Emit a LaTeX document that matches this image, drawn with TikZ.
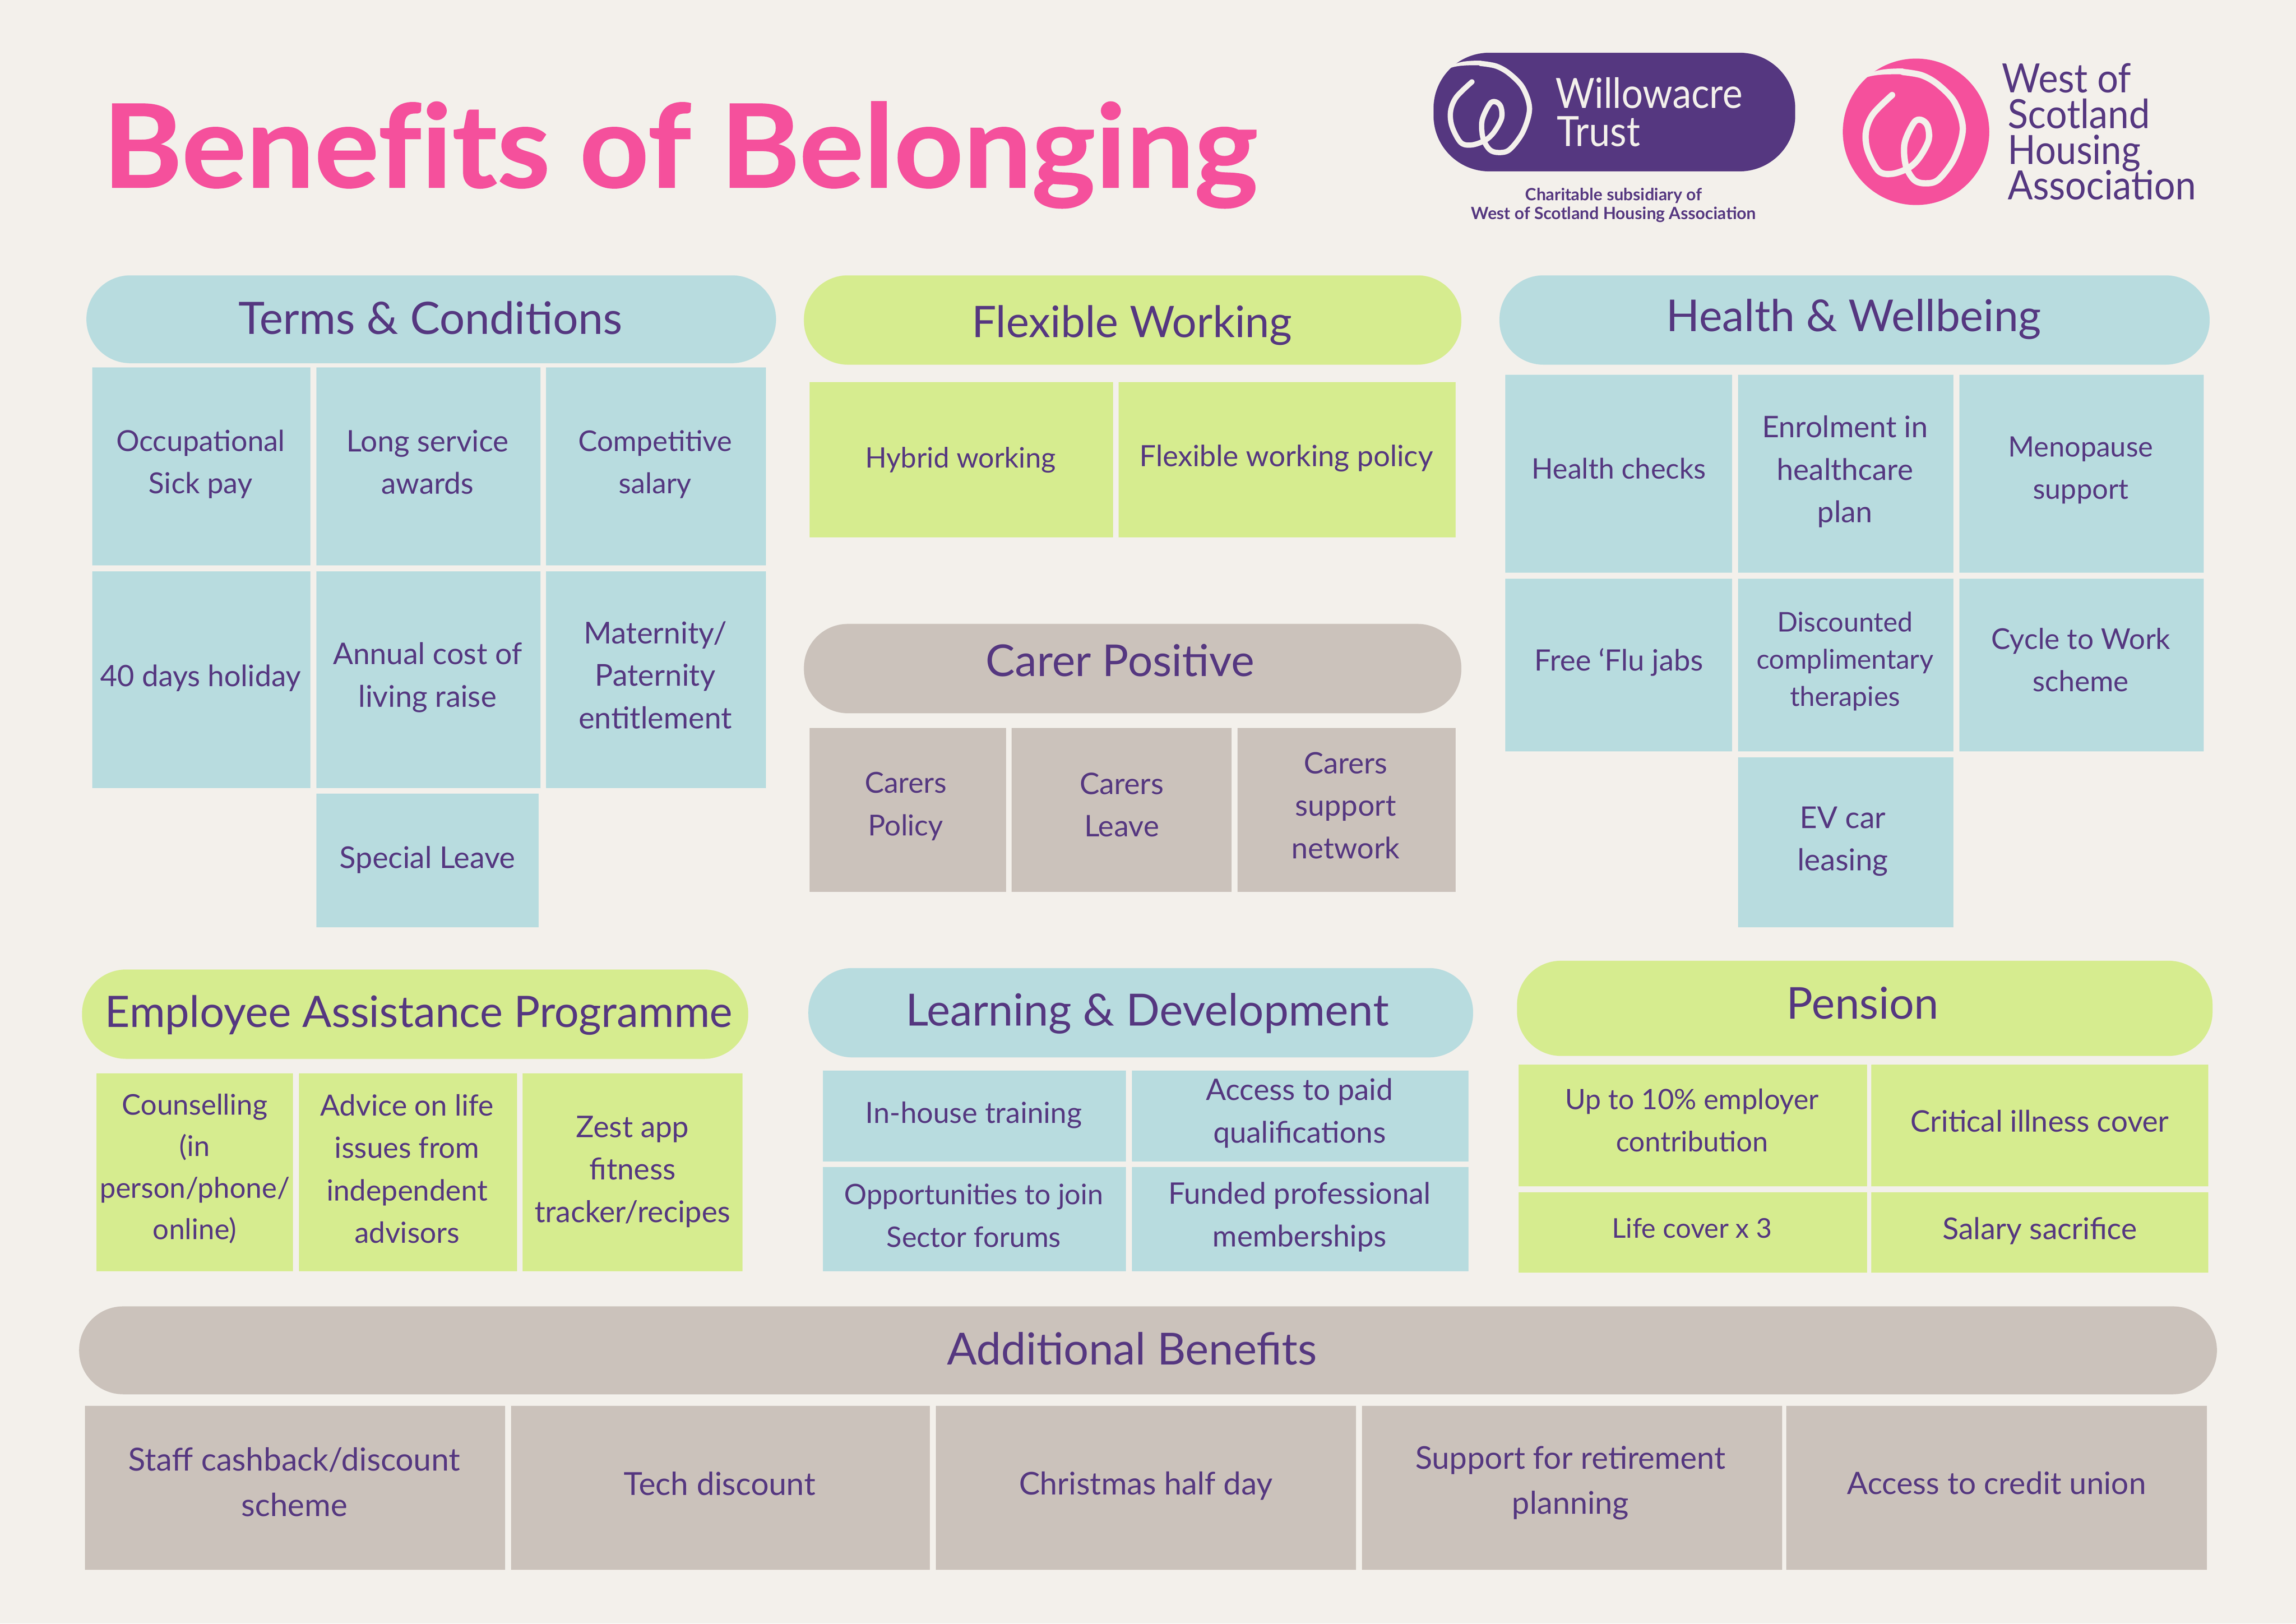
\documentclass[tikz,border=0pt]{standalone}
\usepackage{fontspec}
\setmainfont{Lato}
\definecolor{bgc}{HTML}{F3F0EB}
\definecolor{bluec}{HTML}{B8DCDF}
\definecolor{limec}{HTML}{D6EC8F}
\definecolor{taupec}{HTML}{CBC2BB}
\definecolor{pinkc}{HTML}{F5509C}
\definecolor{purp}{HTML}{553780}
\tikzset{
  txt/.style={inner sep=0pt,align=center,text=purp},
  head/.style={inner sep=0pt,align=center,text=purp},
  logotxt/.style={inner sep=0pt,anchor=base west,font=\fontsize{27.5}{30}\selectfont},
}
% name, colour, x1, y1, x2, y2, centre, size, text
\newcommand{\hdr}[9]{\fill[#2,rounded corners=30pt] (#3,#4) rectangle (#5,#6);\node[head,font=\fontsize{#8}{36}\selectfont] (#1) at (#7) {#9};}
\newcommand{\cel}[9]{\fill[#2] (#3,#4) rectangle (#5,#6);\node[txt,font=\fontsize{#8}{29}\selectfont] (#1) at (#7) {#9};}
\newcommand{\swirlpath}{plot[smooth,tension=.55] coordinates{(965,312)(1000,335)(1030,400)(1060,520)(1075,700)(1060,900)(1030,1050)(1005,1075)(985,1050)(970,950)(968,800)(985,660)(998,640)(1010,680)(1012,780)(995,900)(975,970)(945,1010)(920,990)(900,850)(897,720)(910,600)(945,470)}}
\newcommand{\swirl}[1]{\draw[bgc,line width=#1,line cap=round,line join=round] \swirlpath;
  \fill[bgc] (897,350) .. controls (905,300) and (930,287) .. (965,288) -- (985,330) .. controls (945,325) and (915,325) .. cycle;}
\begin{document}
\begin{tikzpicture}[x=1pt,y=-1pt]
\useasboundingbox (0,0) rectangle (1568,1108.6);
\fill[bgc] (0,0) rectangle (1568,1108.6);
% title
\node[inner sep=0pt,anchor=base west,text=pinkc,font=\bfseries\fontsize{79}{82}\selectfont] (title) at (70,128) {\addfontfeature{FakeBold=0.7}\scalebox{1.045}[1]{Benef\kern0pt its of Belonging}};
% Willowacre logo
\fill[purp,rounded corners=38pt] (979,36) rectangle (1226,117);
\begin{scope}[shift={(1018.5,76)},xscale=.3027,yscale=.0797,shift={(-989,-722)}]
\swirl{3.6pt}
\end{scope}
\node[logotxt,text=bgc,font=\fontsize{28.5}{30}\selectfont] (wa) at (1062,73.7) {\scalebox{.91}[1]{Willowacre}};
\node[logotxt,text=bgc,font=\fontsize{28.5}{30}\selectfont] (tr) at (1063,99.8) {\scalebox{.91}[1]{Trust}};
\node[inner sep=0pt,align=center,text=purp,font=\bfseries\fontsize{11.5}{13}\selectfont] (ch) at (1102,140) {Charitable subsidiary of\\West of Scotland Housing Association};
% WSHA logo
\fill[pinkc] (1308.5,90) circle (50);
\begin{scope}[shift={(1308.5,90)},xscale=.3715,yscale=.0996,shift={(-989,-722)}]
\swirl{4.3pt}
\end{scope}
\node[logotxt,text=purp] (w1) at (1367,63.2) {\scalebox{.925}[1]{West of}};
\node[logotxt,text=purp] (w2) at (1371,87.6) {\scalebox{.935}[1]{Scotland}};
\node[logotxt,text=purp] (w3) at (1371,112) {\scalebox{.91}[1]{Housing}};
\node[logotxt,text=purp] (w4) at (1371,136.4) {\scalebox{.925}[1]{Association}};
% headers
\hdr{h1}{bluec}{59}{188}{530}{248}{294,217}{30.5}{Terms \& Conditions}
\hdr{h2}{limec}{549}{188}{998}{249}{773,222}{29.7}{Flexible Working}
\hdr{h3}{taupec}{549}{426}{998}{487}{765,451}{30}{Carer Positive}
\hdr{h4}{bluec}{1024}{188}{1509}{249}{1266,218}{30}{Health \& Wellbeing}
\hdr{h5}{limec}{56}{662}{511}{723}{286,693}{29.6}{Employee Assistance Programme}
\hdr{h6}{bluec}{552}{661}{1006}{722}{783.5,692}{30.3}{Learning \& Development}
\hdr{h7}{limec}{1036}{656}{1511}{721}{1272,685}{30}{Pension}
\hdr{h8}{taupec}{54}{892}{1514}{952}{773,921}{30.2}{Additional Benefits}
% Terms
\cel{t1}{bluec}{63}{251}{212}{386}{137,317}{19.8}{Occupational\\Sick pay}
\cel{t2}{bluec}{216}{251}{369}{386}{292,315.5}{20.3}{Long service\\awards}
\cel{t3}{bluec}{373}{251}{523}{386}{447.5,317}{19.5}{Competitive\\salary}
\cel{t4}{bluec}{63}{390}{212}{538}{137,463}{20.1}{40 days holiday}
\cel{t5}{bluec}{216}{390}{369}{538}{292,462.5}{20.4}{Annual cost of\\living raise}
\cel{t6}{bluec}{373}{390}{523}{538}{447.5,461}{20.6}{Maternity/\\Paternity\\entitlement}
\cel{t7}{bluec}{216}{542}{368}{633}{292,587}{20.5}{Special Leave}
% Flexible
\cel{f1}{limec}{553}{261}{760}{367}{656,314}{19.2}{Hybrid working}
\cel{f2}{limec}{764}{261}{994}{367}{878.5,313}{20}{Flexible working policy}
% Carer
\cel{c1}{taupec}{553}{497}{687}{609}{618.5,550.5}{19.7}{Carers\\Policy}
\cel{c2}{taupec}{691}{497}{841}{609}{766,549.5}{20.3}{Carers\\Leave}
\cel{c3}{taupec}{845}{497}{994}{609}{919,550}{20.2}{Carers\\support\\network}
% Health
\cel{w1c}{bluec}{1028}{256}{1183}{391}{1105.5,320}{19.3}{Health checks}
\cel{w2c}{bluec}{1187}{256}{1334}{391}{1260,322}{20.3}{Enrolment in\\healthcare\\plan}
\cel{w3c}{bluec}{1338}{256}{1505}{391}{1421,321}{19.2}{Menopause\\support}
\cel{w4c}{bluec}{1028}{395}{1183}{513}{1105.5,452}{20.1}{Free ‘Flu jabs}
\fill[bluec] (1187,395) rectangle (1334,513);
\node[txt,font=\fontsize{18.5}{25.5}\selectfont] (w5c) at (1260,451.5) {Discounted\\complimentary\\therapies};
\cel{w6c}{bluec}{1338}{395}{1505}{513}{1421,450.5}{19.6}{Cycle to Work\\scheme}
\cel{w7c}{bluec}{1187}{517}{1334}{633}{1258.5,574.5}{20.6}{EV car\\leasing}
% EAP
\fill[limec] (66,733) rectangle (200,868);
\node[txt,font=\fontsize{19.5}{28.3}\selectfont] (e1) at (133,798) {Counselling\\(in\\person/phone/\\online)};
\cel{e2}{limec}{204}{733}{353}{868}{278,798}{19.9}{Advice on life\\issues from\\independent\\advisors}
\cel{e3}{limec}{357}{733}{507}{868}{432,800}{20.4}{Zest app\\fitness\\tracker/recipes}
% L&D
\cel{l1}{bluec}{562}{731}{769}{793}{665,761.5}{19.9}{In-house training}
\cel{l2}{bluec}{773}{731}{1003}{793}{887.5,760}{20.3}{Access to paid\\qualifications}
\cel{l3}{bluec}{562}{797}{769}{868}{665,830}{19.3}{Opportunities to join\\Sector forums}
\cel{l4}{bluec}{773}{797}{1003}{868}{887.5,831}{20.3}{Funded professional\\memberships}
% Pension
\cel{p1}{limec}{1037}{727}{1275}{810}{1155.5,765}{19.2}{Up to 10\% employer\\contribution}
\cel{p2}{limec}{1278}{727}{1508}{810}{1393,765.5}{20.3}{Critical illness cover}
\cel{p3}{limec}{1037}{814}{1275}{869}{1155.5,838.5}{18.6}{Life cover x 3}
\cel{p4}{limec}{1278}{814}{1508}{869}{1393,840.5}{20.5}{Salary sacrifice}
% Additional
\fill[taupec] (58,960) rectangle (345,1072);
\node[txt,font=\fontsize{21.7}{31}\selectfont] (a1) at (201,1012) {Staff cashback/discount\\scheme};
\cel{a2}{taupec}{349}{960}{635}{1072}{491.5,1013}{21.7}{Tech discount}
\cel{a3}{taupec}{639}{960}{926}{1072}{782.5,1014.5}{21.4}{Christmas half day}
\fill[taupec] (930,960) rectangle (1217,1072);
\node[txt,font=\fontsize{21.4}{31}\selectfont] (a4) at (1072.5,1012.5) {Support for retirement\\planning};
\cel{a5}{taupec}{1220}{960}{1507}{1072}{1363.5,1012.5}{21.1}{Access to credit union}
\end{tikzpicture}
\end{document}
